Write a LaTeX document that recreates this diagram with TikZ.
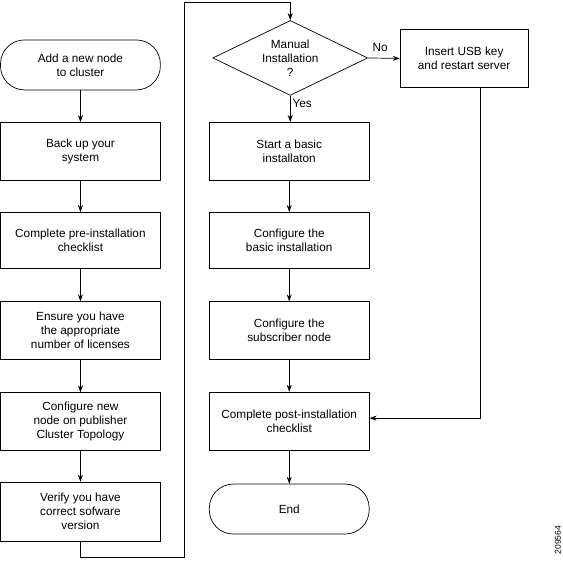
\documentclass[tikz,border=0pt]{standalone}
\usepackage{fontspec}
\setmainfont{Liberation Sans}
\usetikzlibrary{shapes.geometric,arrows.meta}
\begin{document}
\begin{tikzpicture}[x=1pt,y=-1pt,
  every node/.style={font=\fontsize{11.8}{14}\selectfont, align=center, inner sep=0pt},
  box/.style={draw, line width=0.7pt, minimum width=160pt, minimum height=58pt},
  term/.style={draw, line width=0.7pt, rounded corners=24pt, minimum width=160pt, minimum height=50pt},
  decision/.style={draw, line width=0.7pt, diamond, aspect=2.07, minimum width=155pt, minimum height=75pt},
  conn/.style={line width=0.7pt},
  arr/.style={conn, -{Stealth[length=7pt,width=5pt]}}]
\useasboundingbox (-0.5,-0.5) rectangle (563,561);
% left column
\node[term] (start) at (80,64.5) {Add a new node\\to cluster};
\node[box] (backup) at (80,151) {Back up your\\system};
\node[box, minimum height=56pt] (pre) at (80,240) {Complete pre-installation\\checklist};
\node[box] (ensure) at (80,330.5) {Ensure you have\\the appropriate\\number of licenses};
\node[box] (confnew) at (80,421.5) {Configure new\\node on publisher\\Cluster Topology};
\node[box, minimum height=59pt] (verify) at (80,511.5) {Verify you have\\correct sofware\\version};
% right column
\node[decision] (manual) at (290,57.5) {Manual\\Installation\\?};
\node[box, minimum width=128pt] (usb) at (464,58) {Insert USB key\\and restart server};
\node[box] (basic) at (289,151) {Start a basic\\installaton};
\node[box, minimum height=56pt] (confbasic) at (289,240) {Configure the\\basic installation};
\node[box] (subscriber) at (289,330.5) {Configure the\\subscriber node};
\node[box] (post) at (289,421) {Complete post-installation\\checklist};
\node[term] (end) at (289,509) {End};
\node[font=\fontsize{8.5}{10}\selectfont, rotate=90] (fig) at (558,540) {209564};
\node (no) at (380,47) {No};
\node (yes) at (302,103) {Yes};
% connectors
\draw[arr] (start) -- (backup);
\draw[arr] (backup) -- (pre);
\draw[arr] (pre) -- (ensure);
\draw[arr] (ensure) -- (confnew);
\draw[arr] (confnew) -- (verify);
\coordinate (c1) at (80,557);
\coordinate (c2) at (184,557);
\coordinate (c3) at (184,2);
\coordinate (c4) at (290,2);
\draw[arr] (verify.south) -- (c1) -- (c2) -- (c3) -- (c4) -- (manual.north);
\draw[arr] (manual.east) -- (usb.west);
\draw[arr] (manual.south) -- (manual.south |- basic.north);
\draw[arr] (basic) -- (confbasic);
\draw[arr] (confbasic) -- (subscriber);
\draw[arr] (subscriber) -- (post);
\draw[arr] (post) -- (end);
\coordinate (c5) at (480,418);
\draw[arr] (usb.south -| c5) -- (c5) -- (post.east |- c5);
\end{tikzpicture}
\end{document}
